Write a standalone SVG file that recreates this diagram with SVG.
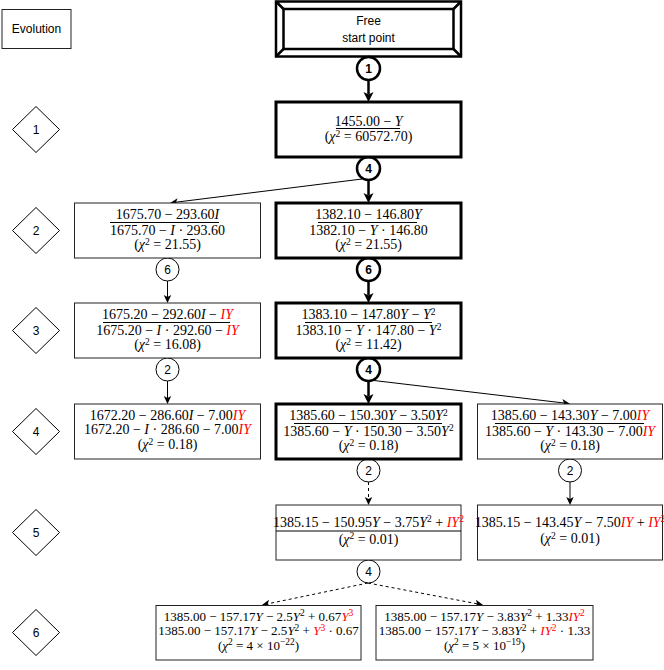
<svg xmlns="http://www.w3.org/2000/svg" width="664" height="670" viewBox="0 0 664 670">
<defs>
<style>
.m{font-family:"Liberation Serif","Times New Roman",serif;font-size:14px;text-anchor:middle;fill:#000}
.m6{font-size:13px}
.s{font-family:"Liberation Sans",Arial,sans-serif;font-size:12px;text-anchor:middle;fill:#000}
.b{font-weight:bold}
.i{font-style:italic}
.r{fill:#ff0000}
.sup{font-size:9.5px}
.box{fill:#fff;stroke:#222;stroke-width:1}
.tbox{fill:#fff;stroke:#000;stroke-width:3}
.bar{stroke:#000;stroke-width:1}
.dia{fill:#fff;stroke:#000;stroke-width:1}
.c{fill:#fff;stroke:#000;stroke-width:1}
.tc{fill:#fff;stroke:#000;stroke-width:2.5}
.e{fill:none;stroke:#000;stroke-width:1}
.te{fill:none;stroke:#000;stroke-width:2.5}
.d{stroke-dasharray:3,3}
</style>
<marker id="ah" markerUnits="userSpaceOnUse" markerWidth="9" markerHeight="8" refX="2" refY="3.75" orient="auto" overflow="visible"><path d="M0,0 L8,3.75 L0,7.5 L2,3.75 z" fill="#000"/></marker>
<marker id="tah" markerUnits="userSpaceOnUse" markerWidth="11" markerHeight="11" refX="2.5" refY="5" orient="auto" overflow="visible"><path d="M0,0 L10,5 L0,10 L2.5,5 z" fill="#000"/></marker>
</defs>

<g id="evolution"><rect class="box" x="2" y="9.5" width="69" height="39"/><text class="s" x="36.5" y="33">Evolution</text></g>

<g id="step-1"><polygon class="dia" points="36,106.5 59.5,129.5 36,152.5 12.5,129.5"/><text class="s" x="36" y="134">1</text></g>
<g id="step-2"><polygon class="dia" points="36,207.5 59.5,230.5 36,253.5 12.5,230.5"/><text class="s" x="36" y="235">2</text></g>
<g id="step-3"><polygon class="dia" points="36,307.5 59.5,330.5 36,353.5 12.5,330.5"/><text class="s" x="36" y="335">3</text></g>
<g id="step-4"><polygon class="dia" points="36,408.5 59.5,431.5 36,454.5 12.5,431.5"/><text class="s" x="36" y="436">4</text></g>
<g id="step-5"><polygon class="dia" points="36,509.5 59.5,532.5 36,555.5 12.5,532.5"/><text class="s" x="36" y="537">5</text></g>
<g id="step-6"><polygon class="dia" points="36,609.5 59.5,632.5 36,655.5 12.5,632.5"/><text class="s" x="36" y="637">6</text></g>

<g id="connectors">
<line class="te" x1="368.5" y1="80" x2="368.5" y2="94.5" marker-end="url(#tah)"/>
<line class="te" x1="368.5" y1="180" x2="368.5" y2="195.5" marker-end="url(#tah)"/>
<line class="e" x1="362" y1="179" x2="176" y2="202.2" marker-end="url(#ah)"/>
<line class="e" x1="167.5" y1="281" x2="167.5" y2="297" marker-end="url(#ah)"/>
<line class="te" x1="368.5" y1="281" x2="368.5" y2="295.5" marker-end="url(#tah)"/>
<line class="e" x1="167.5" y1="381" x2="167.5" y2="398" marker-end="url(#ah)"/>
<line class="te" x1="368.5" y1="381" x2="368.5" y2="396.5" marker-end="url(#tah)"/>
<line class="e" x1="374" y1="380.5" x2="564" y2="403" marker-end="url(#ah)"/>
<line class="e d" x1="368.5" y1="482" x2="368.5" y2="499" marker-end="url(#ah)"/>
<line class="e" x1="570" y1="482" x2="570" y2="499" marker-end="url(#ah)"/>
<line class="e d" x1="368" y1="583" x2="267.8" y2="603.8" marker-end="url(#ah)"/>
<line class="e d" x1="368" y1="583" x2="477.2" y2="603.8" marker-end="url(#ah)"/>
</g>

<g id="start"><rect x="276" y="1.5" width="185" height="55" fill="#fff" stroke="#000" stroke-width="2.5"/><rect x="283.5" y="9" width="170" height="40" fill="none" stroke="#000" stroke-width="2.5"/><path d="M276,1.5 L283.5,9 M461,1.5 L453.5,9 M276,56.5 L283.5,49 M461,56.5 L453.5,49" stroke="#000" stroke-width="2.5" fill="none"/><text class="s" x="368.5" y="24.5">Free</text><text class="s" x="368.5" y="41.5">start point</text></g>

<g id="c1"><circle class="tc" cx="368.5" cy="68.5" r="11.5"/><text class="s b" x="368.5" y="73">1</text></g>
<g id="c2"><circle class="tc" cx="368.5" cy="168.5" r="11.5"/><text class="s b" x="368.5" y="173">4</text></g>
<g id="c3"><circle class="c" cx="167.5" cy="269.5" r="11.5"/><text class="s" x="167.5" y="274">6</text></g>
<g id="c4"><circle class="tc" cx="368.5" cy="269.5" r="11.5"/><text class="s b" x="368.5" y="274">6</text></g>
<g id="c5"><circle class="c" cx="167.5" cy="369.5" r="11.5"/><text class="s" x="167.5" y="374">2</text></g>
<g id="c6"><circle class="tc" cx="368.5" cy="369.5" r="11.5"/><text class="s b" x="368.5" y="374">4</text></g>
<g id="c7"><circle class="c" cx="368.5" cy="470.5" r="11.5"/><text class="s" x="368.5" y="475">2</text></g>
<g id="c8"><circle class="c" cx="570" cy="470.5" r="11.5"/><text class="s" x="570" y="475">2</text></g>
<g id="c9"><circle class="c" cx="368.5" cy="571.5" r="11.5"/><text class="s" x="368.5" y="576">4</text></g>

<g id="n1"><rect class="tbox" x="276" y="102" width="185" height="55"/>
<text class="m" x="368.5" y="125.5">1455.00 − <tspan class="i">Y</tspan></text>
<line class="bar" x1="336" y1="128.5" x2="400" y2="128.5"/>
<text class="m" x="368.5" y="141">(<tspan class="i">χ</tspan><tspan class="sup" dy="-4.5">2</tspan><tspan dy="4.5"> = 60572.70)</tspan></text></g>

<g id="n2l"><rect class="box" x="74.5" y="203" width="186" height="55"/>
<text class="m" x="167.5" y="219">1675.70 − 293.60<tspan class="i">I</tspan></text>
<line class="bar" x1="110" y1="222.5" x2="219" y2="222.5"/>
<text class="m" x="167.5" y="234.5">1675.70 − <tspan class="i">I</tspan> · 293.60</text>
<text class="m" x="167.5" y="249">(<tspan class="i">χ</tspan><tspan class="sup" dy="-4.5">2</tspan><tspan dy="4.5"> = 21.55)</tspan></text></g>

<g id="n2m"><rect class="tbox" x="276" y="203" width="185" height="55"/>
<text class="m" x="368.5" y="219">1382.10 − 146.80<tspan class="i">Y</tspan></text>
<line class="bar" x1="318" y1="222.5" x2="417" y2="222.5"/>
<text class="m" x="368.5" y="234.5">1382.10 − <tspan class="i">Y</tspan> · 146.80</text>
<text class="m" x="368.5" y="249">(<tspan class="i">χ</tspan><tspan class="sup" dy="-4.5">2</tspan><tspan dy="4.5"> = 21.55)</tspan></text></g>

<g id="n3l"><rect class="box" x="74.5" y="303" width="186" height="55"/>
<text class="m" x="167.5" y="319">1675.20 − 292.60<tspan class="i">I</tspan> − <tspan class="i r">IY</tspan></text>
<line class="bar" x1="103" y1="322.5" x2="230" y2="322.5"/>
<text class="m" x="167.5" y="334.5">1675.20 − <tspan class="i">I</tspan> · 292.60 − <tspan class="i r">IY</tspan></text>
<text class="m" x="167.5" y="349">(<tspan class="i">χ</tspan><tspan class="sup" dy="-4.5">2</tspan><tspan dy="4.5"> = 16.08)</tspan></text></g>

<g id="n3m"><rect class="tbox" x="276" y="303" width="185" height="55"/>
<text class="m" x="368.5" y="319">1383.10 − 147.80<tspan class="i">Y</tspan> − <tspan class="i">Y</tspan><tspan class="sup" dy="-4.5">2</tspan></text>
<line class="bar" x1="305" y1="322.5" x2="432" y2="322.5"/>
<text class="m" x="368.5" y="334.5">1383.10 − <tspan class="i">Y</tspan> · 147.80 − <tspan class="i">Y</tspan><tspan class="sup" dy="-4.5">2</tspan></text>
<text class="m" x="368.5" y="349">(<tspan class="i">χ</tspan><tspan class="sup" dy="-4.5">2</tspan><tspan dy="4.5"> = 11.42)</tspan></text></g>

<g id="n4l"><rect class="box" x="74.5" y="404" width="186" height="55"/>
<text class="m" x="167.5" y="419.5">1672.20 − 286.60<tspan class="i">I</tspan> − 7.00<tspan class="i r">IY</tspan></text>
<text class="m" x="167.5" y="434">1672.20 − <tspan class="i">I</tspan> · 286.60 − 7.00<tspan class="i r">IY</tspan></text>
<text class="m" x="167.5" y="449">(<tspan class="i">χ</tspan><tspan class="sup" dy="-4.5">2</tspan><tspan dy="4.5"> = 0.18)</tspan></text></g>

<g id="n4m"><rect class="tbox" x="276" y="404" width="185" height="55"/>
<text class="m" x="368.5" y="420">1385.60 − 150.30<tspan class="i">Y</tspan> − 3.50<tspan class="i">Y</tspan><tspan class="sup" dy="-4.5">2</tspan></text>
<line class="bar" x1="294" y1="423.5" x2="442" y2="423.5"/>
<text class="m" x="368.5" y="435.5">1385.60 − <tspan class="i">Y</tspan> · 150.30 − 3.50<tspan class="i">Y</tspan><tspan class="sup" dy="-4.5">2</tspan></text>
<text class="m" x="368.5" y="450">(<tspan class="i">χ</tspan><tspan class="sup" dy="-4.5">2</tspan><tspan dy="4.5"> = 0.18)</tspan></text></g>

<g id="n4r"><rect class="box" x="477.5" y="404" width="185" height="55"/>
<text class="m" x="570" y="420">1385.60 − 143.30<tspan class="i">Y</tspan> − 7.00<tspan class="i r">IY</tspan></text>
<line class="bar" x1="495" y1="423.5" x2="644" y2="423.5"/>
<text class="m" x="570" y="435.5">1385.60 − <tspan class="i">Y</tspan> · 143.30 − 7.00<tspan class="i r">IY</tspan></text>
<text class="m" x="570" y="450">(<tspan class="i">χ</tspan><tspan class="sup" dy="-4.5">2</tspan><tspan dy="4.5"> = 0.18)</tspan></text></g>

<g id="n5m"><rect class="box" x="276" y="505" width="185" height="55"/>
<text class="m" x="368.5" y="526.5">1385.15 − 150.95<tspan class="i">Y</tspan> − 3.75<tspan class="i">Y</tspan><tspan class="sup" dy="-4.5">2</tspan><tspan dy="4.5"> + </tspan><tspan class="i r">IY</tspan><tspan class="sup r" dy="-4.5">2</tspan></text>
<line class="bar" x1="276" y1="531" x2="461" y2="531"/>
<text class="m" x="368.5" y="543.5">(<tspan class="i">χ</tspan><tspan class="sup" dy="-4.5">2</tspan><tspan dy="4.5"> = 0.01)</tspan></text></g>

<g id="n5r"><rect class="box" x="477.5" y="505" width="185" height="55"/>
<text class="m" x="570" y="526.5">1385.15 − 143.45<tspan class="i">Y</tspan> − 7.50<tspan class="i r">IY</tspan> + <tspan class="i r">IY</tspan><tspan class="sup r" dy="-4.5">2</tspan></text>
<text class="m" x="570" y="543">(<tspan class="i">χ</tspan><tspan class="sup" dy="-4.5">2</tspan><tspan dy="4.5"> = 0.01)</tspan></text></g>

<g id="n6l"><rect class="box" x="156" y="605.5" width="205" height="54.5"/>
<text class="m m6" x="258.5" y="620.5">1385.00 − 157.17<tspan class="i">Y</tspan> − 2.5<tspan class="i">Y</tspan><tspan class="sup" dy="-4.5">2</tspan><tspan dy="4.5"> + 0.67</tspan><tspan class="i r">Y</tspan><tspan class="sup r" dy="-4.5">3</tspan></text>
<text class="m m6" x="258.5" y="635">1385.00 − 157.17<tspan class="i">Y</tspan> − 2.5<tspan class="i">Y</tspan><tspan class="sup" dy="-4.5">2</tspan><tspan dy="4.5"> + </tspan><tspan class="i r">Y</tspan><tspan class="sup r" dy="-4.5">3</tspan><tspan dy="4.5"> · 0.67</tspan></text>
<text class="m m6" x="258.5" y="649.5">(<tspan class="i">χ</tspan><tspan class="sup" dy="-4.5">2</tspan><tspan dy="4.5"> = 4 × 10</tspan><tspan class="sup" dy="-4.5">−22</tspan><tspan dy="4.5">)</tspan></text></g>

<g id="n6r"><rect class="box" x="376" y="605.5" width="217" height="54.5"/>
<text class="m m6" x="484.5" y="620.5">1385.00 − 157.17<tspan class="i">Y</tspan> − 3.83<tspan class="i">Y</tspan><tspan class="sup" dy="-4.5">2</tspan><tspan dy="4.5"> + 1.33</tspan><tspan class="i r">IY</tspan><tspan class="sup r" dy="-4.5">2</tspan></text>
<text class="m m6" x="484.5" y="635">1385.00 − 157.17<tspan class="i">Y</tspan> − 3.83<tspan class="i">Y</tspan><tspan class="sup" dy="-4.5">2</tspan><tspan dy="4.5"> + </tspan><tspan class="i r">IY</tspan><tspan class="sup r" dy="-4.5">2</tspan><tspan dy="4.5"> · 1.33</tspan></text>
<text class="m m6" x="484.5" y="649.5">(<tspan class="i">χ</tspan><tspan class="sup" dy="-4.5">2</tspan><tspan dy="4.5"> = 5 × 10</tspan><tspan class="sup" dy="-4.5">−19</tspan><tspan dy="4.5">)</tspan></text></g>
</svg>
